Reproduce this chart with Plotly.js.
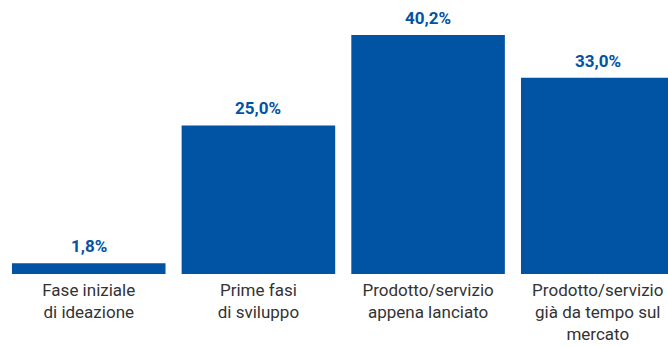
<!DOCTYPE html>
<html>
<head>
<meta charset="utf-8">
<script src="https://cdn.plot.ly/plotly-3.0.1.min.js"></script>
<style>html,body{margin:0;padding:0;background:#fff;}#chart{width:668px;height:347px;}</style>
</head>
<body>
<div id="chart"></div>
<script>
const categories = ["Fase iniziale<br>di ideazione", "Prime fasi<br>di sviluppo", "Prodotto/servizio<br>appena lanciato", "Prodotto/servizio<br>già da tempo sul<br>mercato"];
const values = [1.8, 25.0, 40.2, 33.0];
const valueLabels = ["1,8%", "25,0%", "40,2%", "33,0%"];

const blue = "#0153A4";
const idx = categories.map((c, i) => i);

const trace = {
  type: "bar",
  x: idx,
  y: values,
  marker: {color: blue},
  hoverinfo: "none",
  width: 0.905
};

const annotations = values.map((v, i) => ({
  x: i, y: v, xref: "x", yref: "y",
  text: "<b>" + valueLabels[i] + "</b>",
  showarrow: false, yanchor: "bottom", yshift: 5,
  font: {family: "Roboto, sans-serif", size: 17, color: blue}
}));

const layout = {
  width: 668, height: 347,
  margin: {l: 0, r: 0, t: 0, b: 73, pad: 0},
  paper_bgcolor: "#fff", plot_bgcolor: "#fff",
  showlegend: false,
  xaxis: {
    range: [-0.523, 3.414],
    tickmode: "array", tickvals: idx, ticktext: categories,
    showgrid: false, zeroline: false, showline: false, ticks: "",
    ticklabelstandoff: 4,
    tickfont: {family: "Roboto, sans-serif", size: 17, color: "#333333"},
    fixedrange: true
  },
  yaxis: {
    range: [0, 46.1],
    visible: false, showgrid: false, zeroline: false, fixedrange: true
  },
  annotations: annotations
};

Plotly.newPlot("chart", [trace], layout, {displayModeBar: false, staticPlot: true});
</script>
</body>
</html>
